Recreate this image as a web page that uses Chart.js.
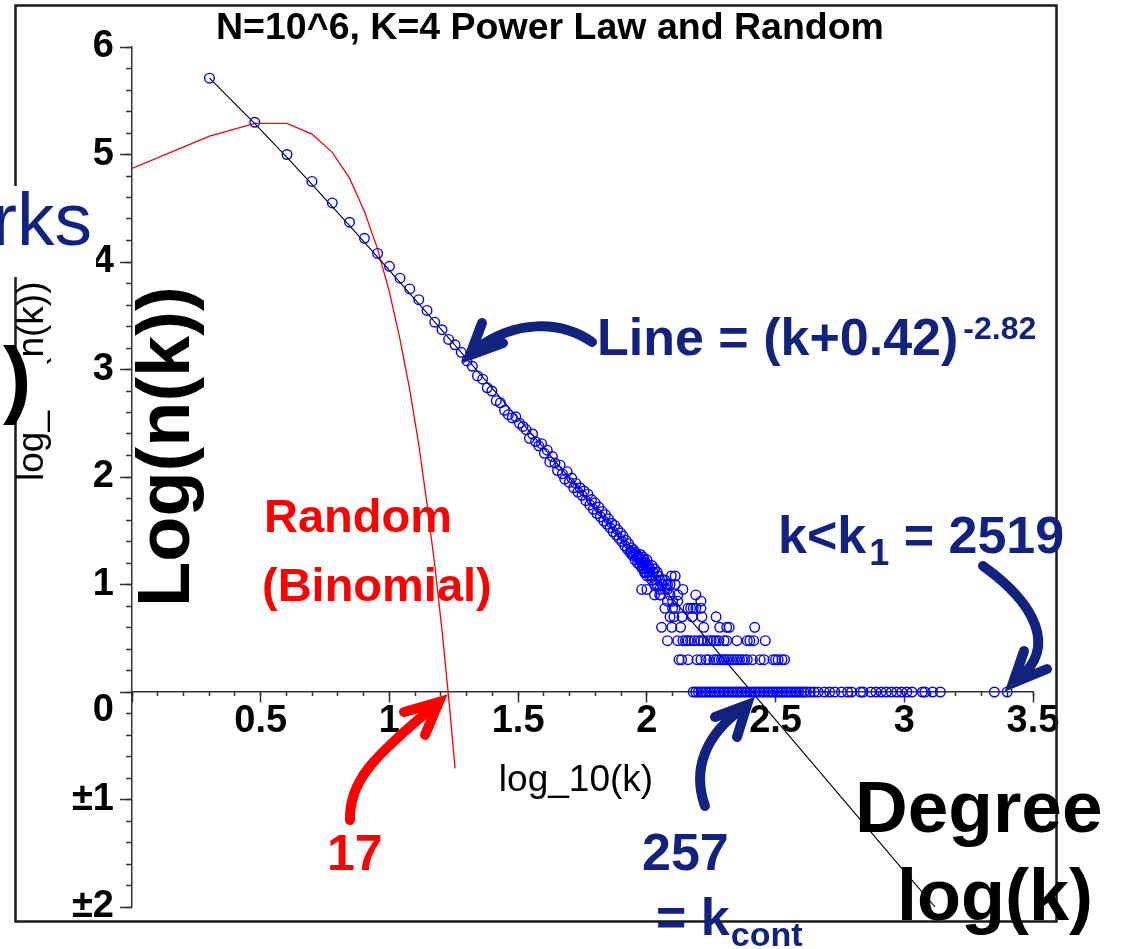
<!DOCTYPE html>
<html><head><meta charset="utf-8">
<script src="https://cdn.jsdelivr.net/npm/chart.js@4.4.1/dist/chart.umd.min.js"></script>
<style>html,body{margin:0;padding:0;background:#fff;}canvas{display:block;}</style>
</head><body>
<canvas id="c" width="1122" height="949"></canvas>
<script>
// ---------- text ----------
const titleText = 'N=10^6, K=4 Power Law and Random';
const xAxisTitle = 'log_10(k)';
const yAxisTitle = 'log_10(n(k))';
const xTickLabels = ['', '0.5', '1', '1.5', '2', '2.5', '3', '3.5'];
const yTickLabels = ['±2', '±1', ['', '0'], '1', '2', '3', '4', '5', '6'];

// ---------- Random (binomial) curve: log10(k), log10(n) ----------
const randomLogK = [0, 0.301, 0.477, 0.602, 0.699, 0.778, 0.845, 0.903, 0.954, 1.0, 1.041, 1.079, 1.114, 1.146, 1.176, 1.204, 1.230, 1.255];
const randomLogN = [4.87, 5.17, 5.29, 5.29, 5.19, 5.02, 4.78, 4.47, 4.12, 3.72, 3.28, 2.81, 2.30, 1.75, 1.18, 0.58, -0.05, -0.71];

// ---------- fitted line (k+0.42)^-2.82 ----------
const fitLogK = [0.301, 0.477, 0.602, 0.699, 0.845, 1.0, 1.146, 1.301, 1.477, 1.699, 2.0, 2.477, 3.0, 3.12];
const fitLogN = [5.71, 5.287, 4.973, 4.723, 4.338, 3.923, 3.525, 3.099, 2.61, 1.992, 1.148, -0.194, -1.668, -2.0];

// ---------- power-law sample, upper part (one point per degree) ----------
const upperLogK = [0.301, 0.477, 0.602, 0.699, 0.778, 0.845, 0.903, 0.954, 1.0, 1.041, 1.079, 1.114, 1.146, 1.176, 1.204, 1.23, 1.255, 1.279, 1.301, 1.322, 1.342, 1.362, 1.38, 1.398, 1.415, 1.431, 1.447, 1.462, 1.477, 1.491, 1.505, 1.519, 1.531, 1.544, 1.556, 1.568, 1.58, 1.591, 1.602, 1.613, 1.623, 1.633, 1.643, 1.653, 1.663, 1.672, 1.681, 1.69, 1.699,
  1.708, 1.716, 1.724, 1.732, 1.74, 1.748, 1.756, 1.763, 1.771, 1.778, 1.785, 1.792, 1.799, 1.806, 1.813, 1.82, 1.826, 1.833, 1.839, 1.845, 1.851, 1.857, 1.863, 1.869, 1.875, 1.881, 1.886, 1.892, 1.898, 1.903, 1.908, 1.914, 1.919, 1.924, 1.929, 1.934, 1.94, 1.944, 1.949, 1.954, 1.959, 1.964, 1.968, 1.973, 1.978, 1.982, 1.987, 1.991, 1.996, 2.0];
const upperLogN = [5.71, 5.30, 5.00, 4.75, 4.55, 4.37, 4.22, 4.08, 3.96, 3.85, 3.75, 3.65, 3.55, 3.44, 3.37, 3.28, 3.23, 3.16, 3.08, 3.03, 2.94, 2.91, 2.83, 2.80, 2.71, 2.69, 2.62, 2.58, 2.55, 2.56, 2.50, 2.47, 2.44, 2.36, 2.40, 2.33, 2.29, 2.31, 2.22, 2.25, 2.14, 2.19, 2.13, 2.06, 2.11, 2.03, 1.98, 2.05, 1.95,
  1.99, 1.90, 1.94, 1.86, 1.90, 1.83, 1.87, 1.78, 1.84, 1.74, 1.79, 1.70, 1.76, 1.66, 1.72, 1.63, 1.68, 1.59, 1.65, 1.56, 1.61, 1.53, 1.57, 1.49, 1.55, 1.46, 1.51, 1.43, 1.48, 1.40, 1.45, 1.36, 1.41, 1.33, 1.38, 1.30, 1.34, 1.27, 1.32, 1.23, 1.28, 1.20, 1.26, 1.18, 1.23, 1.15, 1.20, 1.11, 1.18, 1.08];

// ---------- power-law sample, low counts (rows of equal n) ----------
const rowLogN = [1.301, 1.279, 1.255, 1.23, 1.204, 1.176, 1.146, 1.114, 1.079, 1.041, 1.0, 0.954, 0.903, 0.845, 0.778, 0.699, 0.602, 0.477, 0.301, 0];
const rowLogK = [
  [1.94, 1.955],
  [1.95, 1.975],
  [1.965, 1.985],
  [1.97, 1.99, 2.0],
  [1.98, 1.993],
  [1.985, 2.005, 2.02],
  [1.99, 2.0, 2.012, 2.03],
  [1.995, 2.01, 2.025, 2.04],
  [2.01, 2.02, 2.045, 2.095, 2.11],
  [2.02, 2.035, 2.05, 2.06, 2.07],
  [2.03, 2.04, 2.06, 2.08, 2.09, 2.11],
  [1.98, 2.0, 2.05, 2.07, 2.08, 2.14],
  [2.03, 2.05, 2.055, 2.09, 2.12, 2.19],
  [2.08, 2.10, 2.12, 2.21],
  [2.07, 2.10, 2.11, 2.16, 2.17, 2.18, 2.19, 2.21],
  [2.09, 2.105, 2.137, 2.176, 2.214, 2.269],
  [2.057, 2.097, 2.131, 2.221, 2.283, 2.31, 2.32, 2.419],
  [2.08, 2.12, 2.14, 2.15, 2.16, 2.17, 2.185, 2.2, 2.21, 2.22, 2.235, 2.25, 2.26, 2.27, 2.28, 2.3, 2.31, 2.35, 2.39, 2.4, 2.415, 2.46],
  [2.125, 2.135, 2.16, 2.195, 2.21, 2.23, 2.24, 2.26, 2.27, 2.28, 2.29, 2.3, 2.31, 2.32, 2.33, 2.34, 2.35, 2.36, 2.37, 2.38, 2.39, 2.41, 2.44, 2.455, 2.49, 2.5, 2.51, 2.525, 2.535],
  [2.18, 2.19, 2.2, 2.21, 2.22, 2.23, 2.24, 2.25, 2.26, 2.27, 2.28, 2.29, 2.3, 2.31, 2.32, 2.33, 2.34, 2.35, 2.36, 2.37, 2.38, 2.39, 2.4, 2.41, 2.42, 2.43, 2.44, 2.45, 2.46, 2.47, 2.48, 2.49, 2.5, 2.51, 2.52, 2.53, 2.54, 2.55, 2.56, 2.57, 2.58, 2.59, 2.6, 2.61, 2.62, 2.635, 2.65, 2.665, 2.69, 2.71, 2.73, 2.756, 2.78, 2.795, 2.83, 2.84, 2.87, 2.89, 2.91, 2.93, 2.95, 2.97, 2.99, 3.01, 3.03, 3.07, 3.08, 3.11, 3.14, 3.35, 3.40]
];

// ---------- build datasets ----------
const pts = (xs, ys) => xs.map((x, i) => ({x: x, y: ys[i]}));
const blueData = pts(upperLogK, upperLogN);
rowLogK.forEach((row, r) => row.forEach(x => blueData.push({x: x, y: rowLogN[r]})));

const NAVY = '#12237f';
const FONT = "'Liberation Sans', Arial, sans-serif";

const overlay = {
  id: 'overlay',
  afterDraw(chart) {
    const ctx = chart.ctx;
    ctx.save();
    const T = (s, x, y, size, color, weight, align) => {
      ctx.font = (weight || 'bold') + ' ' + size + 'px ' + FONT;
      ctx.fillStyle = color; ctx.textAlign = align || 'left'; ctx.textBaseline = 'alphabetic';
      ctx.fillText(s, x, y);
      return ctx.measureText(s).width;
    };
    const arrow = (color, w, p0, c1, c2, p1, tip, b1, b2) => {
      ctx.strokeStyle = color; ctx.lineWidth = w; ctx.lineCap = 'round'; ctx.lineJoin = 'round';
      ctx.beginPath(); ctx.moveTo(p0[0], p0[1]);
      ctx.bezierCurveTo(c1[0], c1[1], c2[0], c2[1], p1[0], p1[1]); ctx.stroke();
      ctx.lineJoin = 'miter';
      ctx.beginPath(); ctx.moveTo(b1[0], b1[1]); ctx.lineTo(tip[0], tip[1]); ctx.lineTo(b2[0], b2[1]); ctx.stroke();
    };

    // frame
    ctx.strokeStyle = '#1a1a1a'; ctx.lineWidth = 2.5;
    ctx.strokeRect(15.5, 5.5, 1041, 916);

    // title
    T(titleText, 550, 39, 37.5, '#000', 'bold', 'center');

    // x axis title
    T(xAxisTitle, 576, 791, 37, '#000', 'normal', 'center');

    // small rotated y axis title
    ctx.save(); ctx.translate(43, 481); ctx.rotate(-Math.PI / 2);
    T(yAxisTitle, 0, 0, 37, '#000', 'normal', 'left');
    ctx.restore();

    // covering boxes from slide
    ctx.fillStyle = '#fff';
    ctx.fillRect(0, 186, 96, 91);
    ctx.fillRect(0, 360, 47, 56);
    T('rks', -8, 245, 75, NAVY, 'normal');
    T(')', 3, 407, 85, '#000', 'bold');

    // big rotated label
    ctx.save(); ctx.translate(189, 607); ctx.rotate(-Math.PI / 2);
    T('Log(n(k))', 0, 0, 74, '#000', 'bold', 'left');
    ctx.restore();

    // Line = (k+0.42)^-2.82
    let w = T('Line = (k+0.42)', 597, 355, 52, NAVY);
    T('-2.82', 597 + w + 5, 339, 32, NAVY);

    // k<k1 = 2519
    w = T('k<k', 778, 553, 52, NAVY);
    let w2 = T('1', 778 + w + 3, 565, 36, NAVY);
    T(' = 2519', 778 + w + 3 + w2, 553, 52, NAVY);

    // 257 = kcont
    T('257', 642, 870, 52, NAVY);
    w = T('= k', 656, 935, 52, NAVY);
    T('cont', 656 + w + 1, 946, 34, NAVY);

    // Random (Binomial), 17
    T('Random', 264, 532, 47, '#ff0000');
    T('(Binomial)', 262, 601, 47, '#ff0000');
    T('17', 327, 870, 50, '#ff0000');

    // Degree log(k)
    T('Degree', 855, 832, 73, '#000');
    T('log(k)', 897, 920, 72, '#000');

    // arrows
    arrow(NAVY, 10, [592, 342], [560, 320], [515, 320], [476, 349], [470, 355], [482, 323], [503, 343]);
    arrow(NAVY, 10, [983, 566], [1035, 603], [1058, 648], [1018, 679], [1013, 683], [1024, 651], [1047, 669]);
    arrow(NAVY, 10, [705, 806], [692, 770], [705, 735], [742, 709], [747, 705], [715, 717], [737, 737]);
    arrow('#ff0000', 10, [350, 820], [349, 782], [372, 758], [433, 707], [439, 702], [404, 712], [425, 735]);

    ctx.restore();
  }
};

Chart.defaults.font.family = FONT;
new Chart(document.getElementById('c'), {
  type: 'scatter',
  data: {
    datasets: [
      {label: 'power law', data: blueData, showLine: false, pointStyle: 'circle', pointRadius: 4.8, pointHoverRadius: 4.8,
       pointBorderWidth: 1.4, pointBorderColor: '#0000ff', pointBackgroundColor: 'rgba(0,0,0,0)', order: 0},
      {label: 'fit', data: pts(fitLogK, fitLogN), showLine: true, pointRadius: 0, borderColor: '#000', borderWidth: 1.1, order: 1},
      {label: 'random', data: pts(randomLogK, randomLogN), showLine: true, pointRadius: 0, borderColor: '#ff0000', borderWidth: 1.3, order: 2}
    ]
  },
  options: {
    responsive: false, animation: false, devicePixelRatio: 1,
    layout: {padding: {top: 47, right: 89, bottom: 42, left: 0}},
    plugins: {legend: {display: false}, tooltip: {enabled: false}, title: {display: false}},
    scales: {
      x: {type: 'linear', position: {y: 0}, min: 0, max: 3.5,
          ticks: {stepSize: 0.5, autoSkip: false, maxRotation: 0, padding: 1, color: '#000',
                  font: {size: 38, weight: 'bold', lineHeight: 1}, callback: (v, i) => xTickLabels[i]},
          grid: {drawOnChartArea: false, drawTicks: true, tickLength: 10, tickColor: '#333', tickWidth: 1.5},
          border: {display: true, color: '#333', width: 1.5}},
      xMinor: {type: 'linear', axis: 'x', position: {y: 0}, min: 0, max: 3.5,
          ticks: {stepSize: 0.1, display: false, autoSkip: false},
          grid: {drawOnChartArea: false, drawTicks: true, tickLength: 4, tickColor: '#333', tickWidth: 1.5},
          border: {display: false}},
      y: {type: 'linear', position: 'left', min: -2, max: 6,
          ticks: {stepSize: 1, autoSkip: false, padding: 6, color: '#000',
                  font: {size: 38, weight: 'bold', lineHeight: 1}, callback: (v, i) => yTickLabels[i]},
          grid: {drawOnChartArea: false, drawTicks: true, tickLength: 12, tickColor: '#333', tickWidth: 1.5},
          border: {display: true, color: '#333', width: 1.5},
          afterFit: (s) => { s.width = 132; }},
      yMinor: {type: 'linear', axis: 'y', position: {x: 0}, min: -2, max: 6,
          ticks: {stepSize: 0.2, display: false, autoSkip: false},
          grid: {drawOnChartArea: false, drawTicks: true, tickLength: 6, tickColor: '#333', tickWidth: 1.5},
          border: {display: false}}
    }
  },
  plugins: [overlay]
});
</script>
</body></html>
